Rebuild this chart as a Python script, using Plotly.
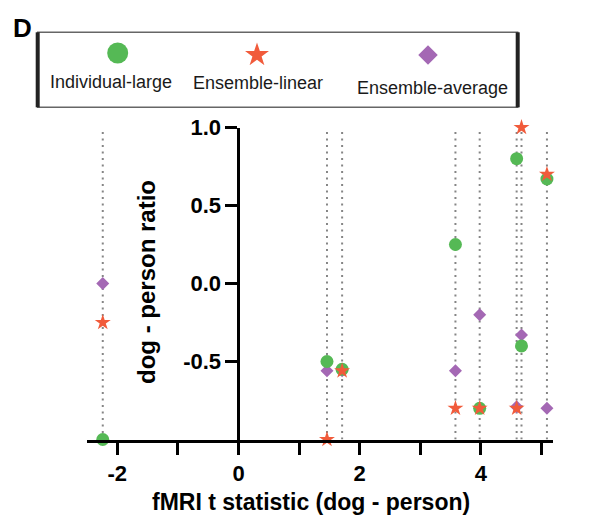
import plotly.graph_objects as go

# ---- data ----
t_stat = [-2.24, 1.46, 1.71, 3.58, 3.98, 4.59, 4.67, 5.09]
individual_large = [-1.0, -0.50, -0.55, 0.25, -0.80, 0.80, -0.40, 0.67]
ensemble_linear = [-0.25, -1.0, -0.56, -0.80, -0.80, -0.80, 1.0, 0.70]
ensemble_average = [0.0, -0.56, -0.56, -0.56, -0.20, -0.79, -0.33, -0.80]
series_names = ["Individual-large", "Ensemble-linear", "Ensemble-average"]
x_tick_vals = [-2, -1, 0, 1, 2, 3, 4, 5]
x_tick_text = ["-2", "", "0", "", "2", "", "4", ""]
y_tick_vals = [-0.5, 0.0, 0.5, 1.0]
y_tick_text = ["-0.5", "0.0", "0.5", "1.0"]

# ---- styling / layout constants ----
W, H = 611, 521
GREEN, RED, PURPLE = "#55B955", "#F15B3B", "#A468B4"
X_RANGE = [-2.5, 5.19]
Y_RANGE = [-1.0, 1.0]
FONT = "Liberation Sans, Arial, Helvetica, sans-serif"

def px(x):
    return x / W

def py(y):
    return 1 - y / H

x_dom = [px(87), px(553)]
y_dom = [py(439.5), py(127.5)]
yaxis_pos = x_dom[0] + (0 - X_RANGE[0]) / (X_RANGE[1] - X_RANGE[0]) * (x_dom[1] - x_dom[0])

fig = go.Figure()

# dotted vertical guide lines at each t statistic
lx, ly = [], []
for t in t_stat:
    lx += [t, t, None]
    ly += [Y_RANGE[0], Y_RANGE[1], None]
fig.add_trace(go.Scatter(x=lx, y=ly, mode="lines",
                         line=dict(color="#858585", width=2, dash="2px,4.5px"),
                         hoverinfo="skip", showlegend=False, cliponaxis=False))

fig.add_trace(go.Scatter(x=t_stat, y=ensemble_average, mode="markers", name=series_names[2],
                         marker=dict(symbol="diamond", size=10, color=PURPLE),
                         showlegend=False, cliponaxis=False))
fig.add_trace(go.Scatter(x=t_stat, y=individual_large, mode="markers", name=series_names[0],
                         marker=dict(symbol="circle", size=13, color=GREEN),
                         showlegend=False, cliponaxis=False))
fig.add_trace(go.Scatter(x=t_stat, y=ensemble_linear, mode="markers", name=series_names[1],
                         marker=dict(symbol="star", size=12, color=RED),
                         showlegend=False, cliponaxis=False))

# custom legend (symbols above labels) on a hidden helper axis
leg_x0, leg_x1, leg_y0, leg_y1 = 37.7, 517.7, 32.3, 107.3
leg_sym_x = [(117.7 - leg_x0) / (leg_x1 - leg_x0),
             (257 - leg_x0) / (leg_x1 - leg_x0),
             (428 - leg_x0) / (leg_x1 - leg_x0)]
leg_sym_y = [(leg_y1 - 53) / (leg_y1 - leg_y0),
             (leg_y1 - 55) / (leg_y1 - leg_y0),
             (leg_y1 - 55) / (leg_y1 - leg_y0)]
leg_symbols = ["circle", "star", "diamond"]
leg_sizes = [21, 18, 15]
leg_colors = [GREEN, RED, PURPLE]
for i in range(3):
    fig.add_trace(go.Scatter(x=[leg_sym_x[i]], y=[leg_sym_y[i]], mode="markers",
                             xaxis="x2", yaxis="y2", hoverinfo="skip", showlegend=False,
                             marker=dict(symbol=leg_symbols[i], size=leg_sizes[i], color=leg_colors[i])))

leg_text_pos = [(111, 81.7), (258, 83), (432, 88)]
annotations = []
for name, (tx, ty) in zip(series_names, leg_text_pos):
    annotations.append(dict(text=name, x=px(tx), y=py(ty), xref="paper", yref="paper",
                            xanchor="center", yanchor="middle", showarrow=False,
                            font=dict(family=FONT, size=18, color="#1a1a1a")))
annotations.append(dict(text="D", x=px(22.5), y=py(27.5), xref="paper", yref="paper",
                        xanchor="center", yanchor="middle", showarrow=False,
                        font=dict(family=FONT, size=26, color="black", weight="bold")))
annotations.append(dict(text="dog - person ratio", x=px(146.5), y=py(282.5), xref="paper", yref="paper",
                        xanchor="center", yanchor="middle", showarrow=False, textangle=-90,
                        font=dict(family=FONT, size=24, color="black", weight="bold")))
annotations.append(dict(text="fMRI t statistic (dog - person)", x=px(311), y=py(502), xref="paper", yref="paper",
                        xanchor="center", yanchor="middle", showarrow=False,
                        font=dict(family=FONT, size=23, color="black", weight="bold")))

shapes = [
    dict(type="rect", xref="paper", yref="paper", x0=px(leg_x0), x1=px(leg_x1), y0=py(leg_y1), y1=py(leg_y0),
         line=dict(color="#666666", width=1.5)),
    dict(type="line", xref="paper", yref="paper", x0=px(leg_x0), x1=px(leg_x0), y0=py(leg_y1), y1=py(leg_y0),
         line=dict(color="#222222", width=4)),
    dict(type="line", xref="paper", yref="paper", x0=px(leg_x1), x1=px(leg_x1), y0=py(leg_y1), y1=py(leg_y0),
         line=dict(color="#222222", width=4)),
]

tickfont = dict(family=FONT, size=22, color="black", weight="bold")
fig.update_layout(
    width=W, height=H, margin=dict(l=0, r=0, t=0, b=0, autoexpand=False),
    plot_bgcolor="white", paper_bgcolor="white", showlegend=False,
    xaxis=dict(domain=x_dom, range=X_RANGE, anchor="y", showline=True, linewidth=3, linecolor="black",
               ticks="outside", ticklen=12, tickwidth=3, tickcolor="black",
               tickmode="array", tickvals=x_tick_vals, ticktext=x_tick_text,
               showgrid=False, zeroline=False, tickfont=tickfont, automargin=False),
    yaxis=dict(domain=y_dom, range=Y_RANGE, anchor="free", position=yaxis_pos, showline=True, linewidth=3,
               linecolor="black", ticks="outside", ticklen=12, tickwidth=3, tickcolor="black",
               tickmode="array", tickvals=y_tick_vals, ticktext=y_tick_text,
               showgrid=False, zeroline=False, tickfont=tickfont, automargin=False),
    xaxis2=dict(domain=[px(leg_x0), px(leg_x1)], range=[0, 1], anchor="y2", visible=False, fixedrange=True),
    yaxis2=dict(domain=[py(leg_y1), py(leg_y0)], range=[0, 1], anchor="x2", visible=False, fixedrange=True),
    annotations=annotations, shapes=shapes,
)

fig.write_html("out.html", config={"displayModeBar": False},
               post_script="document.body.style.margin='0';")
